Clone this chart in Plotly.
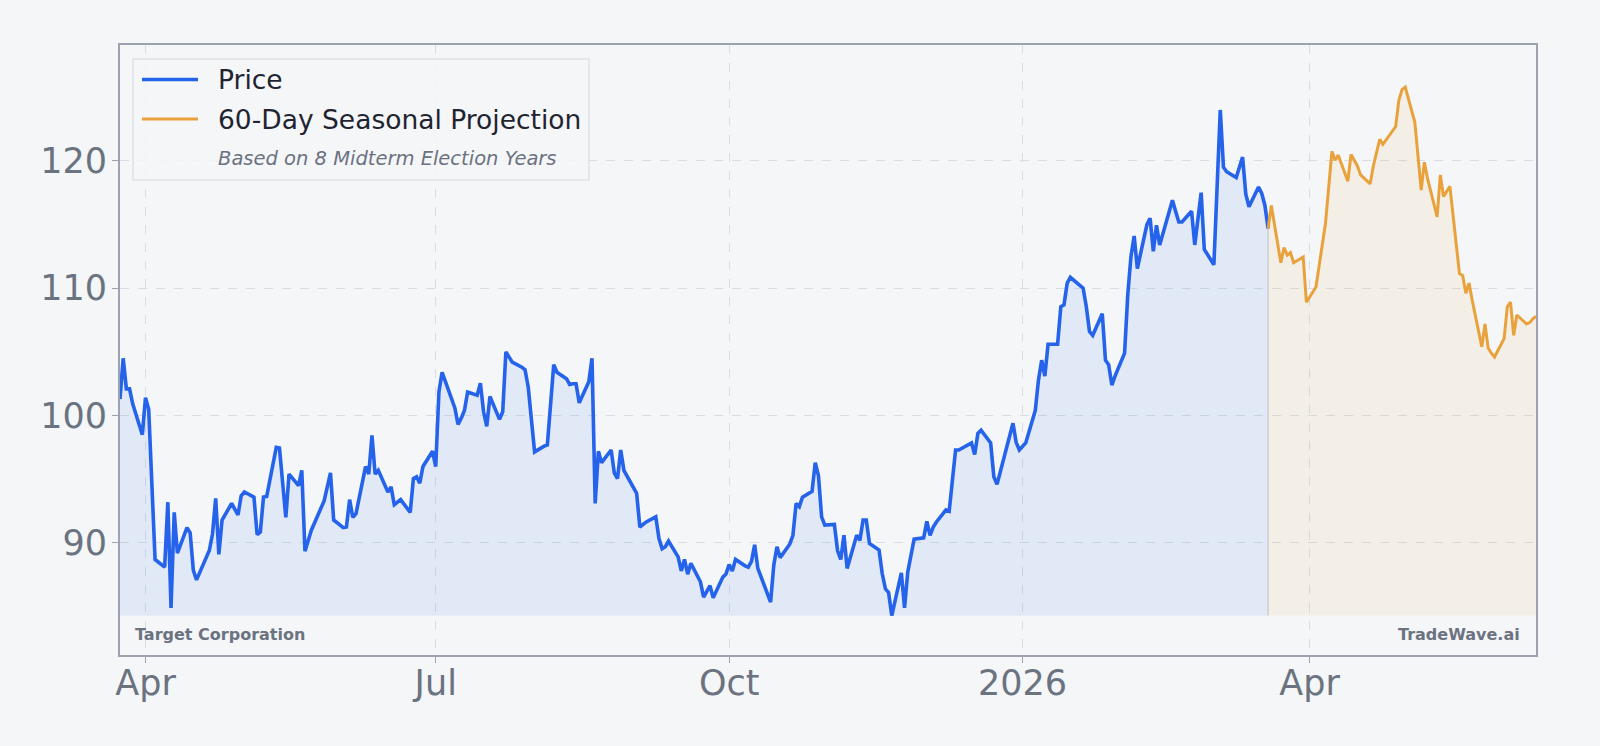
import plotly.graph_objects as go

# ---------------- data ----------------
price_dates = [
    "2025-03-24", "2025-03-25", "2025-03-26", "2025-03-27", "2025-03-28", "2025-03-31",
    "2025-04-01", "2025-04-02", "2025-04-04", "2025-04-07", "2025-04-08", "2025-04-09",
    "2025-04-10", "2025-04-11", "2025-04-14", "2025-04-15", "2025-04-16", "2025-04-17",
    "2025-04-21", "2025-04-22", "2025-04-23", "2025-04-24", "2025-04-25", "2025-04-28",
    "2025-04-30", "2025-05-01", "2025-05-02", "2025-05-05", "2025-05-06", "2025-05-07",
    "2025-05-08", "2025-05-09", "2025-05-12", "2025-05-13", "2025-05-15", "2025-05-16",
    "2025-05-19", "2025-05-20", "2025-05-21", "2025-05-23", "2025-05-27", "2025-05-29",
    "2025-05-30", "2025-06-02", "2025-06-03", "2025-06-04", "2025-06-05", "2025-06-06",
    "2025-06-09", "2025-06-10", "2025-06-11", "2025-06-12", "2025-06-13", "2025-06-16",
    "2025-06-17", "2025-06-18", "2025-06-20", "2025-06-23", "2025-06-24", "2025-06-25",
    "2025-06-26", "2025-06-27", "2025-06-30", "2025-07-01", "2025-07-02", "2025-07-03",
    "2025-07-07", "2025-07-08", "2025-07-09", "2025-07-10", "2025-07-11", "2025-07-14",
    "2025-07-15", "2025-07-16", "2025-07-17", "2025-07-18", "2025-07-21", "2025-07-22",
    "2025-07-23", "2025-07-24", "2025-07-25", "2025-07-28", "2025-07-29", "2025-07-30",
    "2025-08-01", "2025-08-04", "2025-08-05", "2025-08-07", "2025-08-08", "2025-08-11",
    "2025-08-12", "2025-08-13", "2025-08-14", "2025-08-15", "2025-08-18", "2025-08-19",
    "2025-08-20", "2025-08-21", "2025-08-22", "2025-08-25", "2025-08-26", "2025-08-27",
    "2025-08-28", "2025-08-29", "2025-09-02", "2025-09-03", "2025-09-04", "2025-09-05",
    "2025-09-08", "2025-09-09", "2025-09-10", "2025-09-11", "2025-09-12", "2025-09-15",
    "2025-09-16", "2025-09-17", "2025-09-18", "2025-09-19", "2025-09-22", "2025-09-23",
    "2025-09-24", "2025-09-25", "2025-09-26", "2025-09-29", "2025-09-30", "2025-10-01",
    "2025-10-02", "2025-10-03", "2025-10-06", "2025-10-07", "2025-10-08", "2025-10-09",
    "2025-10-10", "2025-10-13", "2025-10-14", "2025-10-15", "2025-10-16", "2025-10-17",
    "2025-10-20", "2025-10-21", "2025-10-22", "2025-10-23", "2025-10-24", "2025-10-27",
    "2025-10-28", "2025-10-29", "2025-10-30", "2025-10-31", "2025-11-03", "2025-11-04",
    "2025-11-05", "2025-11-06", "2025-11-07", "2025-11-10", "2025-11-11", "2025-11-12",
    "2025-11-13", "2025-11-14", "2025-11-17", "2025-11-18", "2025-11-19", "2025-11-20",
    "2025-11-21", "2025-11-24", "2025-11-25", "2025-11-26", "2025-11-28", "2025-12-01",
    "2025-12-02", "2025-12-03", "2025-12-04", "2025-12-05", "2025-12-08", "2025-12-09",
    "2025-12-10", "2025-12-11", "2025-12-12", "2025-12-15", "2025-12-16", "2025-12-17",
    "2025-12-18", "2025-12-19", "2025-12-22", "2025-12-23", "2025-12-24", "2025-12-29",
    "2025-12-30", "2025-12-31", "2026-01-02", "2026-01-05", "2026-01-06", "2026-01-07",
    "2026-01-08", "2026-01-09", "2026-01-12", "2026-01-13", "2026-01-14", "2026-01-15",
    "2026-01-16", "2026-01-20", "2026-01-21", "2026-01-22", "2026-01-23", "2026-01-26",
    "2026-01-27", "2026-01-28", "2026-01-29", "2026-01-30", "2026-02-02", "2026-02-03",
    "2026-02-04", "2026-02-05", "2026-02-06", "2026-02-09", "2026-02-10", "2026-02-11",
    "2026-02-12", "2026-02-13", "2026-02-17", "2026-02-18", "2026-02-19", "2026-02-20",
    "2026-02-23", "2026-02-24", "2026-02-26", "2026-02-27", "2026-03-02", "2026-03-04",
    "2026-03-05", "2026-03-06", "2026-03-09", "2026-03-11", "2026-03-12", "2026-03-13",
    "2026-03-16", "2026-03-17", "2026-03-18", "2026-03-19",
]
price_values = [
    101.3, 104.5, 102.1, 102.1, 100.9, 98.5,
    101.4, 100.5, 88.7, 88.1, 93.2, 84.9,
    92.4, 89.2, 91.2, 90.8, 87.85, 87.1,
    89.4, 90.7, 93.5, 89.1, 91.8, 93.1,
    92.2, 93.7, 94.0, 93.6, 90.65, 90.85,
    93.6, 93.65, 97.5, 97.45, 92.0, 95.4,
    94.5, 95.7, 89.35, 91.0, 93.3, 95.5,
    91.8, 91.2, 91.25, 93.4, 92.0, 92.3,
    96.0, 95.4, 98.45, 95.4, 95.7, 94.0,
    94.4, 93.0, 93.4, 92.4, 95.05, 95.2,
    94.7, 96.0, 97.2, 96.0, 101.85, 103.4,
    100.6, 99.3, 99.8, 100.4, 101.85, 101.6,
    102.55, 100.3, 99.15, 101.5, 99.7, 100.3,
    105.0, 104.65, 104.2, 103.8, 103.6, 102.25,
    97.15, 97.6, 97.7, 104.0, 103.4, 102.9,
    102.45, 102.5, 102.5, 101.0, 102.65, 104.5,
    93.1, 97.2, 96.3, 97.3, 95.5, 95.05,
    97.3, 95.7, 93.9, 91.25, 91.5, 91.65,
    92.05, 90.35, 89.55, 89.7, 90.15, 88.9,
    87.8, 88.7, 87.55, 88.4, 86.95, 85.75,
    86.2, 86.65, 85.7, 87.3, 87.55, 88.3,
    87.8, 88.7, 88.2, 88.1, 88.55, 89.85,
    88.0, 86.0, 85.35, 88.25, 89.7, 88.85,
    89.9, 90.6, 93.1, 92.85, 93.6, 94.05,
    96.3, 95.3, 92.05, 91.4, 91.45, 89.4,
    88.7, 90.6, 88.0, 90.6, 90.2, 91.8,
    91.8, 89.95, 89.45, 87.6, 86.4, 86.1,
    84.3, 87.65, 84.9, 87.7, 90.3, 90.4,
    91.7, 90.6, 91.25, 91.65, 92.6, 92.5,
    94.65, 97.3, 97.3, 97.7, 97.85, 96.95,
    98.6, 98.85, 97.85, 95.2, 94.6, 99.4,
    97.9, 97.3, 97.85, 100.4, 102.8, 104.35,
    103.1, 105.6, 105.6, 108.55, 108.7, 110.4,
    110.85, 110.0, 108.55, 106.6, 106.3, 108.0,
    104.35, 104.0, 102.4, 103.1, 104.9, 109.5,
    112.5, 114.1, 111.55, 115.0, 115.5, 112.9,
    114.95, 113.4, 116.9, 116.05, 115.2, 115.2,
    116.05, 113.4, 117.5, 113.05, 111.85, 124.0,
    119.5, 119.15, 118.7, 120.3, 117.4, 116.4,
    117.95, 117.45, 116.5, 114.7,
]

proj_dates = [
    "2026-03-19", "2026-03-20",
    "2026-03-23", "2026-03-24", "2026-03-25", "2026-03-26", "2026-03-27",
    "2026-03-30", "2026-03-31", "2026-04-01", "2026-04-02", "2026-04-03",
    "2026-04-06", "2026-04-07", "2026-04-08", "2026-04-09", "2026-04-10",
    "2026-04-13", "2026-04-14", "2026-04-15", "2026-04-16", "2026-04-17",
    "2026-04-20", "2026-04-21", "2026-04-22", "2026-04-23", "2026-04-24",
    "2026-04-27", "2026-04-28", "2026-04-29", "2026-04-30", "2026-05-01",
    "2026-05-04", "2026-05-05", "2026-05-06", "2026-05-07", "2026-05-08",
    "2026-05-11", "2026-05-12", "2026-05-13", "2026-05-14", "2026-05-15",
    "2026-05-18", "2026-05-19", "2026-05-20", "2026-05-21", "2026-05-22",
    "2026-05-25", "2026-05-26", "2026-05-27", "2026-05-28", "2026-05-29",
    "2026-06-01", "2026-06-02", "2026-06-03", "2026-06-04", "2026-06-05",
    "2026-06-08", "2026-06-09", "2026-06-10", "2026-06-11",
]
proj_values = [
    114.7, 116.5,
    112.0, 113.2, 112.6, 112.8, 112.0,
    112.45, 108.9, 109.3, 109.7, 110.1,
    115.1, 117.7, 120.75, 120.05, 120.45,
    118.4, 120.5, 120.05, 119.6, 118.9,
    118.2, 119.6, 120.7, 121.7, 121.3,
    122.4, 122.7, 124.75, 125.6, 125.8,
    123.05, 120.4, 117.7, 119.9, 118.6,
    115.6, 118.9, 117.2, 117.6, 118.0,
    111.15, 111.0, 109.6, 110.4, 109.05,
    105.4, 107.2, 105.3, 104.9, 104.6,
    106.05, 108.55, 108.9, 106.3, 107.9,
    107.2, 107.3, 107.6, 107.8,
]

tick_dates = ["2025-04-01", "2025-07-01", "2025-10-01", "2026-01-01", "2026-04-01"]
tick_labels = ["Apr", "Jul", "Oct", "2026", "Apr"]
y_ticks = [90, 100, 110, 120]

company = "Target Corporation"
brand = "TradeWave.ai"
legend_price = "Price"
legend_proj = "60-Day Seasonal Projection"
legend_note = "Based on 8 Midterm Election Years"

# ---------------- style ----------------
BG = "#f4f6f8"
BLUE = "#2563eb"
ORANGE = "#e9a23b"
GREY_TXT = "#6b7280"
FRAME = "#9ca3af"
FONT = "DejaVu Sans"

W, H = 1600, 746
ML, MR, MT, MB = 120, 64, 45, 91
PW, PH = W - ML - MR, H - MT - MB


def px(xp):
    return (xp - ML) / PW


def py(yp):
    return (H - MB - yp) / PH


baseline = min(price_values + proj_values)

fig = go.Figure()
fig.add_trace(go.Scatter(x=price_dates, y=[baseline] * len(price_dates), mode="lines",
                         line=dict(width=0), hoverinfo="skip", showlegend=False))
fig.add_trace(go.Scatter(x=price_dates, y=price_values, mode="lines", name=legend_price,
                         line=dict(color=BLUE, width=3.6), fill="tonexty",
                         fillcolor="rgba(37,99,235,0.09)", showlegend=False))
fig.add_trace(go.Scatter(x=proj_dates, y=[baseline] * len(proj_dates), mode="lines",
                         line=dict(width=0), hoverinfo="skip", showlegend=False))
fig.add_trace(go.Scatter(x=proj_dates, y=proj_values, mode="lines", name=legend_proj,
                         line=dict(color=ORANGE, width=3.0), fill="tonexty",
                         fillcolor="rgba(233,162,59,0.09)", showlegend=False))

shapes = [
    # separator between history and projection fill
    dict(type="line", xref="x", yref="y", x0=price_dates[-1], x1=price_dates[-1],
         y0=baseline, y1=price_values[-1], line=dict(color="rgba(190,190,190,0.55)", width=1.5),
         layer="below"),
    # legend box
    dict(type="rect", xref="paper", yref="paper", x0=px(133), x1=px(589), y0=py(180), y1=py(59),
         fillcolor="rgba(244,246,248,0.85)", line=dict(color="#d4d8de", width=1)),
    dict(type="line", xref="paper", yref="paper", x0=px(142), x1=px(198), y0=py(79.5), y1=py(79.5),
         line=dict(color=BLUE, width=3.6)),
    dict(type="line", xref="paper", yref="paper", x0=px(142), x1=px(198), y0=py(119), y1=py(119),
         line=dict(color=ORANGE, width=3.0)),
]

annotations = [
    dict(xref="paper", yref="paper", x=px(216), y=py(80), xanchor="left", yanchor="middle",
         text=legend_price, showarrow=False, font=dict(family=FONT, size=26.5, color="#1f2430")),
    dict(xref="paper", yref="paper", x=px(216), y=py(119), xanchor="left", yanchor="middle",
         text=legend_proj, showarrow=False, font=dict(family=FONT, size=26.5, color="#1f2430")),
    dict(xref="paper", yref="paper", x=px(216), y=py(158.5), xanchor="left", yanchor="middle",
         text="<i>" + legend_note + "</i>", showarrow=False,
         font=dict(family=FONT, size=19.5, color=GREY_TXT)),
    dict(xref="paper", yref="paper", x=px(133), y=py(634), xanchor="left", yanchor="middle",
         text="<b>" + company + "</b>", showarrow=False,
         font=dict(family=FONT, size=16, color=GREY_TXT)),
    dict(xref="paper", yref="paper", x=px(1522), y=py(634), xanchor="right", yanchor="middle",
         text="<b>" + brand + "</b>", showarrow=False,
         font=dict(family=FONT, size=16, color=GREY_TXT)),
]

fig.update_layout(
    width=W, height=H,
    margin=dict(l=ML, r=MR, t=MT, b=MB, pad=0),
    paper_bgcolor=BG, plot_bgcolor=BG,
    font=dict(family=FONT, color=GREY_TXT),
    showlegend=False,
    shapes=shapes,
    annotations=annotations,
    xaxis=dict(
        type="date", range=["2025-03-24", "2026-06-11"],
        tickmode="array", tickvals=tick_dates, ticktext=tick_labels,
        tickfont=dict(family=FONT, size=35, color=GREY_TXT),
        ticks="outside", ticklen=6, tickwidth=1, tickcolor=FRAME,
        ticklabelstandoff=-10,
        showgrid=True, gridcolor="#d9dde3", griddash="dash", gridwidth=1,
        showline=True, linecolor=FRAME, linewidth=2, mirror=True,
        zeroline=False,
    ),
    yaxis=dict(
        range=[81.2, 129.1],
        tickmode="array", tickvals=y_ticks,
        tickfont=dict(family=FONT, size=35, color=GREY_TXT),
        ticks="outside", ticklen=6, tickwidth=1, tickcolor=FRAME,
        ticklabelstandoff=-2,
        showgrid=True, gridcolor="#d9dde3", griddash="dash", gridwidth=1,
        showline=True, linecolor=FRAME, linewidth=2, mirror=True,
        zeroline=False,
    ),
)

fig.write_html("out.html")
